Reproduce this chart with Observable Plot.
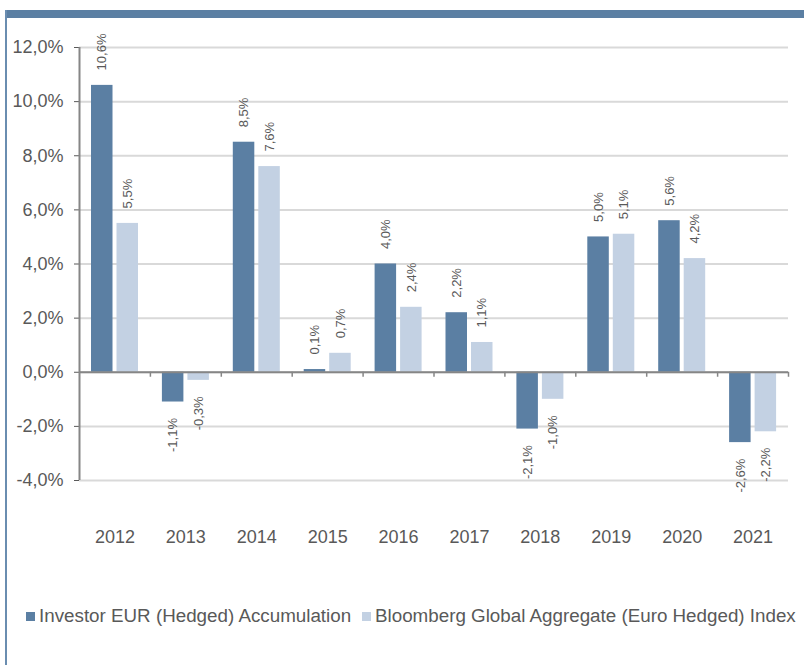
<!DOCTYPE html>
<html>
<head>
<meta charset="utf-8">
<script src="https://cdn.jsdelivr.net/npm/d3@7"></script>
<script src="https://cdn.jsdelivr.net/npm/@observablehq/plot@0.6"></script>
<style>
  html, body { margin: 0; padding: 0; background: #fff; }
  #wrap { position: relative; width: 804px; height: 665px; overflow: hidden; font-family: "Liberation Sans", Arial, sans-serif; }
  #topbar { position: absolute; left: 5px; top: 10px; width: 799px; height: 8px; background: #5B7FA3; }
  #leftline { position: absolute; left: 5px; top: 10px; width: 2px; height: 655px; background: #6A8DB0; }
  #chart { position: absolute; left: 0; top: 0; }
  #legend { position: absolute; top: 604px; left: 0; width: 804px; height: 24px; font-size: 18.8px; color: #595959; }
  .item { position: absolute; top: 0; display: flex; align-items: center; height: 24px; white-space: nowrap; }
  .sw { width: 9px; height: 9px; margin-right: 4px; }
  #chart svg [aria-label^="y-axis"] line { stroke: #868686; }
</style>
</head>
<body>
<div id="wrap">
  <div id="chart"></div>
  <div id="topbar"></div>
  <div id="leftline"></div>
  <div id="legend"></div>
</div>
<script>
const years = [2012, 2013, 2014, 2015, 2016, 2017, 2018, 2019, 2020, 2021];
const fundValues = [10.6, -1.1, 8.5, 0.1, 4.0, 2.2, -2.1, 5.0, 5.6, -2.6];
const indexValues = [5.5, -0.3, 7.6, 0.7, 2.4, 1.1, -1.0, 5.1, 4.2, -2.2];
const seriesNames = ["Investor EUR (Hedged) Accumulation", "Bloomberg Global Aggregate (Euro Hedged) Index"];
const seriesColors = ["#5B7FA3", "#C3D1E3"];
const yTicks = [-4, -2, 0, 2, 4, 6, 8, 10, 12];

const fund = years.map((year, i) => ({year, value: fundValues[i]}));
const index = years.map((year, i) => ({year, value: indexValues[i]}));
const fmt = v => v.toFixed(1).replace(".", ",") + "%";

const W = 804, H = 560, mL = 79, mR = 16;
const half = (W - mL - mR) / years.length / 2;
const textColor = "#595959";
const axisColor = "#868686";

function labels(data, dx) {
  return [
    Plot.text(data.filter(d => d.value >= 0), {x: "year", y: "value", text: d => fmt(d.value), rotate: -90, textAnchor: "start", dx, dy: -15, fill: textColor, fontSize: 13}),
    Plot.text(data.filter(d => d.value < 0), {x: "year", y: "value", text: d => fmt(d.value), rotate: -90, textAnchor: "end", dx, dy: 16, fill: textColor, fontSize: 13})
  ];
}

const chart = Plot.plot({
  width: W, height: H,
  marginTop: 47, marginBottom: 80, marginLeft: mL, marginRight: mR,
  style: {fontFamily: "'Liberation Sans', Arial, sans-serif", fontSize: "18px", color: textColor, background: "transparent"},
  x: {type: "band", domain: years, padding: 0, round: false, label: null, tickSize: 0, tickPadding: 50, tickFormat: d => String(d)},
  y: {domain: [-4, 12], ticks: yTicks, tickFormat: fmt, tickSize: 5, tickPadding: 11, label: null},
  marks: [
    Plot.ruleY(yTicks, {stroke: "#D9D9D9", strokeWidth: 2}),
    Plot.barY(fund, {x: "year", y: "value", fill: seriesColors[0], insetLeft: 12, insetRight: 37.4}),
    Plot.barY(index, {x: "year", y: "value", fill: seriesColors[1], insetLeft: 37.5, insetRight: 11.9}),
    Plot.ruleY([0], {stroke: axisColor, strokeWidth: 2}),
    Plot.ruleX(years.slice(0, 1), {x: d => d, y1: -4, y2: 12, dx: -half, stroke: axisColor, strokeWidth: 2}),
    Plot.ruleX(years, {x: d => d, y1: 0, y2: -0.185, dx: half, stroke: axisColor, strokeWidth: 1.5}),
    ...labels(fund, 22.75 - half),
    ...labels(index, 48.25 - half)
  ]
});
document.getElementById("chart").appendChild(chart);

const legend = document.getElementById("legend");
const lefts = [26, 362];
seriesNames.forEach((name, i) => {
  const item = document.createElement("div");
  item.className = "item";
  item.style.left = lefts[i] + "px";
  const sw = document.createElement("span");
  sw.className = "sw";
  sw.style.background = seriesColors[i];
  const t = document.createElement("span");
  t.textContent = name;
  item.appendChild(sw);
  item.appendChild(t);
  legend.appendChild(item);
});
</script>
</body>
</html>
